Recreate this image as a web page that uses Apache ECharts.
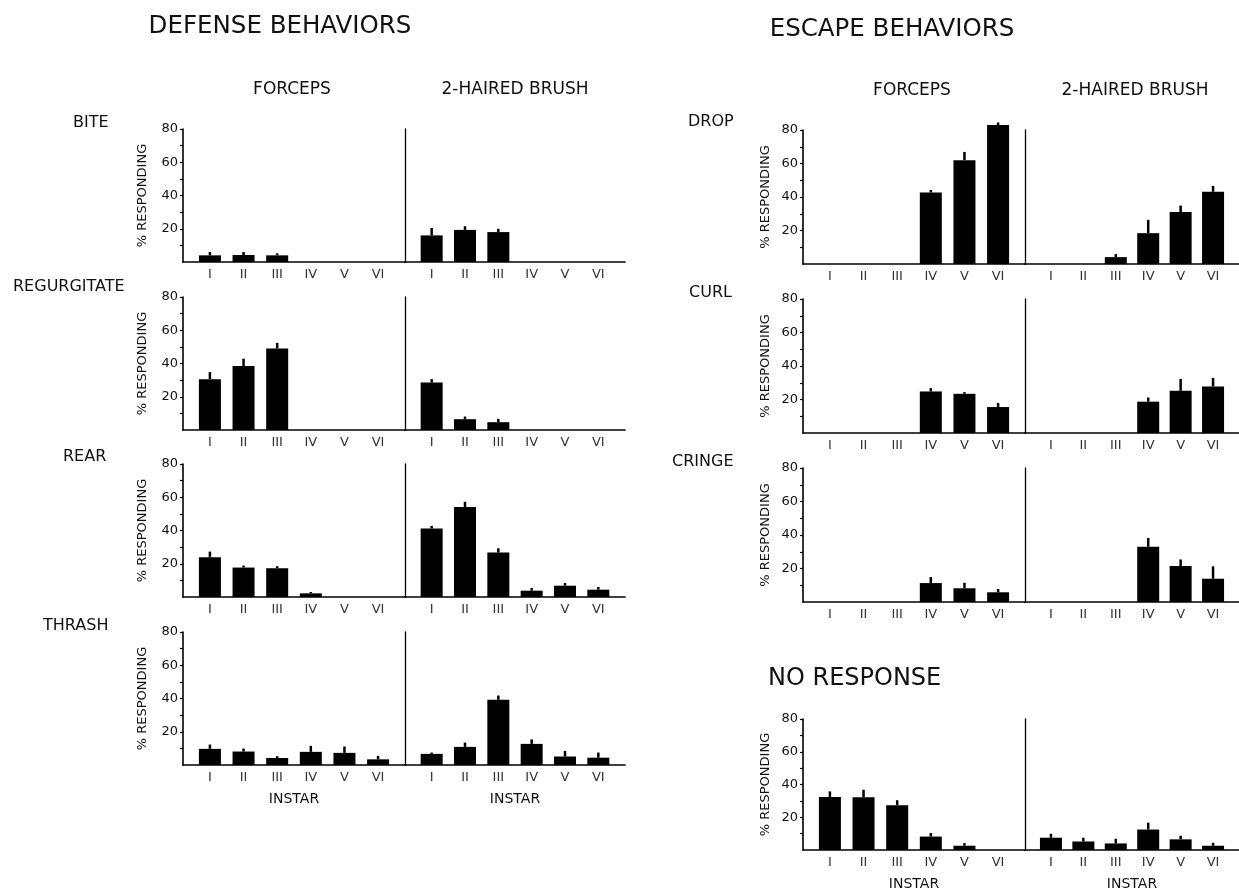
<!DOCTYPE html>
<html><head><meta charset="utf-8">
<script src="https://cdn.jsdelivr.net/npm/echarts@6/dist/echarts.min.js"></script>
<style>html,body{margin:0;padding:0;background:#fff}#c{width:1239px;height:892px}</style>
</head><body><div id="c"></div>
<script>
// ---------- data ----------
const instars = ['I', 'II', 'III', 'IV', 'V', 'VI'];
const yTickValues = [10, 20, 30, 40, 50, 60, 70, 80];
const yLabelValues = [20, 40, 60, 80];
const stimuli = ['FORCEPS', '2-HAIRED BRUSH'];
const groupTitles = ['DEFENSE BEHAVIORS', 'ESCAPE BEHAVIORS', 'NO RESPONSE'];
const axisTitle = '% RESPONDING';
const xTitle = 'INSTAR';

// defense behaviors (mean % responding and error bar height)
const biteForceps = [4, 4.2, 4, 0, 0, 0];
const biteForcepsSE = [2, 1.8, 1.2, 0, 0, 0];
const biteBrush = [16, 19.3, 18, 0, 0, 0];
const biteBrushSE = [4.5, 2.2, 2, 0, 0, 0];

const regurgForceps = [30.6, 38.5, 49, 0, 0, 0];
const regurgForcepsSE = [4.2, 4.4, 3.4, 0, 0, 0];
const regurgBrush = [28.5, 6.5, 4.7, 0, 0, 0];
const regurgBrushSE = [2.1, 1.6, 2, 0, 0, 0];

const rearForceps = [23.9, 17.7, 17.3, 2.2, 0, 0];
const rearForcepsSE = [3.4, 1.2, 1.2, 0.8, 0, 0];
const rearBrush = [41.2, 54.1, 26.7, 3.8, 6.8, 4.4];
const rearBrushSE = [1.6, 3.2, 2.6, 1.6, 1.6, 1.6];

const thrashForceps = [9.7, 8.1, 4.2, 7.9, 7.3, 3.4];
const thrashForcepsSE = [2.6, 1.8, 1.1, 3.6, 3.8, 2.1];
const thrashBrush = [6.7, 10.9, 39.2, 12.7, 5.1, 4.4];
const thrashBrushSE = [0.8, 2.6, 2.6, 2.7, 3.4, 3.1];

// escape behaviors
const dropForceps = [0, 0, 0, 42.7, 62, 83];
const dropForcepsSE = [0, 0, 0, 1.5, 4.9, 1.5];
const dropBrush = [0, 0, 4.1, 18.4, 31, 43.1];
const dropBrushSE = [0, 0, 1.8, 8, 3.9, 3.5];

const curlForceps = [0, 0, 0, 24.8, 23.4, 15.5];
const curlForcepsSE = [0, 0, 0, 2, 1, 2.4];
const curlBrush = [0, 0, 0, 18.7, 25.2, 27.8];
const curlBrushSE = [0, 0, 0, 2.5, 7.1, 5.1];

const cringeForceps = [0, 0, 0, 11.3, 8.2, 5.8];
const cringeForcepsSE = [0, 0, 0, 3.6, 3.3, 2];
const cringeBrush = [0, 0, 0, 33, 21.5, 13.9];
const cringeBrushSE = [0, 0, 0, 5.2, 3.9, 7.4];

// no response
const noneForceps = [32.4, 32.2, 27.4, 8.2, 2.6, 0];
const noneForcepsSE = [3.4, 4.6, 3, 2.2, 1.6, 0];
const noneBrush = [7.5, 5.2, 4, 12.5, 6.5, 2.6];
const noneBrushSE = [2.4, 2.3, 2.9, 4.2, 2.2, 1.8];

// ---------- layout (positions, not data) ----------
const FONT = 'DejaVu Sans';
const INK = '#111';
const columns = [
  { fLeft: 183, fWidth: 222, bLeft: 405, bWidth: 220, height: 133, nameGap: 40 },
  { fLeft: 803, fWidth: 222, bLeft: 1025, bWidth: 222, height: 134, nameGap: 37 }
];
const panels = [
  { label: 'BITE', col: 0, top: 129, lx: 73, ly: 123, f: biteForceps, fe: biteForcepsSE, b: biteBrush, be: biteBrushSE },
  { label: 'REGURGITATE', col: 0, top: 297, lx: 13, ly: 287, f: regurgForceps, fe: regurgForcepsSE, b: regurgBrush, be: regurgBrushSE },
  { label: 'REAR', col: 0, top: 464, lx: 63, ly: 457, f: rearForceps, fe: rearForcepsSE, b: rearBrush, be: rearBrushSE },
  { label: 'THRASH', col: 0, top: 632, lx: 43, ly: 626, f: thrashForceps, fe: thrashForcepsSE, b: thrashBrush, be: thrashBrushSE, instar: true },
  { label: 'DROP', col: 1, top: 130, lx: 688, ly: 122, f: dropForceps, fe: dropForcepsSE, b: dropBrush, be: dropBrushSE },
  { label: 'CURL', col: 1, top: 299, lx: 689, ly: 293, f: curlForceps, fe: curlForcepsSE, b: curlBrush, be: curlBrushSE },
  { label: 'CRINGE', col: 1, top: 468, lx: 672, ly: 462, f: cringeForceps, fe: cringeForcepsSE, b: cringeBrush, be: cringeBrushSE },
  { label: '', col: 1, top: 719, f: noneForceps, fe: noneForcepsSE, b: noneBrush, be: noneBrushSE, instar: true }
];

const grids = [], xAxes = [], yAxes = [], series = [], graphics = [];

function text(str, x, y, size, align) {
  graphics.push({
    type: 'text', x: x, y: y, silent: true,
    style: { text: str, font: size + 'px "' + FONT + '"', fill: INK, textAlign: align || 'left', textVerticalAlign: 'middle' }
  });
}

function errRender(params, api) {
  const x = api.value(0), lo = api.value(1), hi = api.value(2);
  if (!(hi > lo)) return null;
  const p1 = api.coord([x, lo]);
  const p2 = api.coord([x, hi]);
  return { type: 'line', shape: { x1: p1[0], y1: p1[1], x2: p2[0], y2: p2[1] }, style: { stroke: '#000', lineWidth: 2.5 } };
}

panels.forEach(p => {
  const c = columns[p.col];
  [[c.fLeft, c.fWidth, p.f, p.fe, true], [c.bLeft, c.bWidth, p.b, p.be, false]].forEach(([left, width, vals, errs, isF]) => {
    const gi = grids.length;
    grids.push({ left: left, top: p.top, width: width, height: c.height, containLabel: false });
    xAxes.push({
      type: 'value', gridIndex: gi, min: 0.2, max: 6.8,
      splitLine: { show: false },
      axisLine: { show: true, onZero: false, lineStyle: { color: '#000', width: 1.7 } },
      axisTick: { show: false },
      axisLabel: {
        customValues: [1, 2, 3, 4, 5, 6], margin: 6,
        formatter: v => instars[Math.round(v) - 1] || '',
        fontFamily: FONT, fontSize: 13, color: '#333'
      },
      name: p.instar ? xTitle : '', nameLocation: 'middle', nameGap: 34,
      nameTextStyle: { fontFamily: FONT, fontSize: 14, color: INK, verticalAlign: 'middle' }
    });
    yAxes.push({
      type: 'value', gridIndex: gi, min: 0, max: 80,
      splitLine: { show: false },
      axisLine: { show: true, onZero: false, lineStyle: { color: '#000', width: isF ? 1.6 : 1.3 } },
      axisTick: { show: isF, length: 3, customValues: yTickValues, lineStyle: { color: '#000', width: 1.2 } },
      axisLabel: { show: isF, customValues: yLabelValues, margin: 5, fontFamily: FONT, fontSize: 13, color: INK },
      name: isF ? axisTitle : '', nameLocation: 'middle', nameGap: c.nameGap,
      nameTextStyle: { fontFamily: FONT, fontSize: 13, color: INK, verticalAlign: 'middle' }
    });
    series.push({
      type: 'bar', xAxisIndex: gi, yAxisIndex: gi, barWidth: 22, clip: false, silent: true,
      itemStyle: { color: '#000' },
      data: vals.map((v, k) => [k + 1, v])
    });
    series.push({
      type: 'custom', xAxisIndex: gi, yAxisIndex: gi, clip: false, silent: true,
      renderItem: errRender, encode: { x: 0, y: [1, 2] },
      data: vals.map((v, k) => [k + 1, v, v + errs[k]])
    });
  });
  if (p.label) text(p.label, p.lx, p.ly, 16);
});

// headings
text(groupTitles[0], 280, 27, 24.5, 'center');
text(groupTitles[1], 892, 30, 24.5, 'center');
text(groupTitles[2], 768, 679, 24, 'left');
text(stimuli[0], 292, 90, 17, 'center');
text(stimuli[1], 515, 90, 17, 'center');
text(stimuli[0], 912, 91, 17, 'center');
text(stimuli[1], 1135, 91, 17, 'center');

const chart = echarts.init(document.getElementById('c'), null, { renderer: 'canvas' });
chart.setOption({
  backgroundColor: '#fff',
  animation: false,
  grid: grids, xAxis: xAxes, yAxis: yAxes, series: series,
  graphic: graphics
});
</script></body></html>
